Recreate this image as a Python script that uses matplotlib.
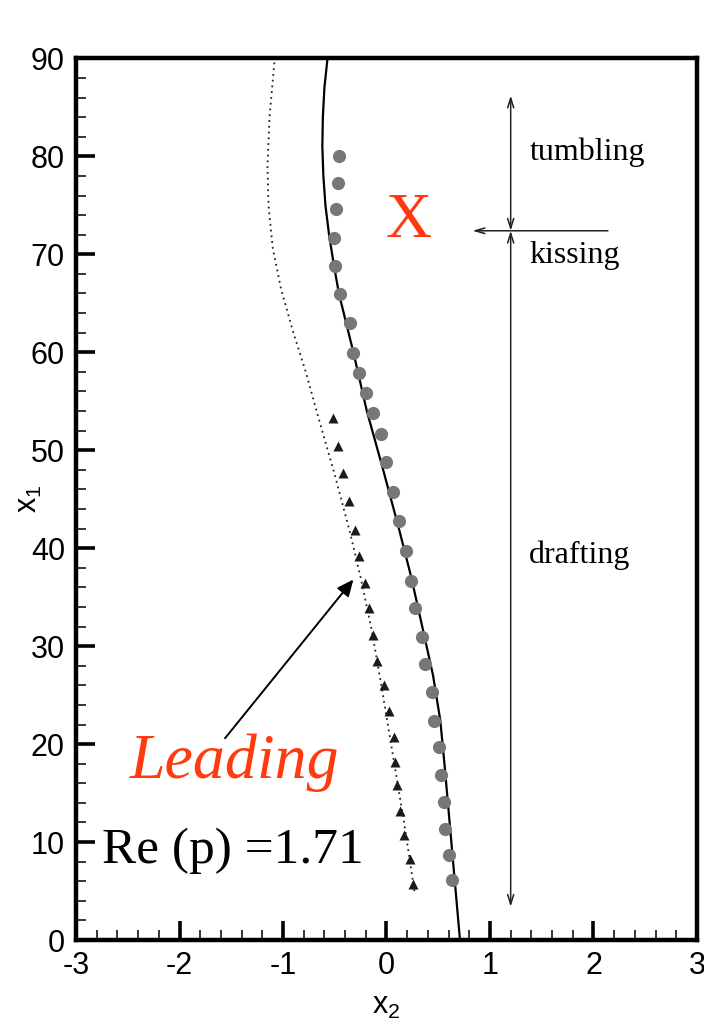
import matplotlib
matplotlib.use("Agg")
import matplotlib.pyplot as plt
from matplotlib.ticker import MultipleLocator

# Particle 1 (trailing) centre positions, numerical data (filled circles)
trail_x2 = [-0.46, -0.47, -0.49, -0.51, -0.50, -0.45, -0.35, -0.32, -0.27, -0.20,
            -0.13, -0.05, 0.00, 0.06, 0.12, 0.19, 0.24, 0.28, 0.34, 0.37,
            0.44, 0.46, 0.51, 0.53, 0.56, 0.57, 0.60, 0.63]
trail_x1 = [80.0, 77.3, 74.6, 71.7, 68.8, 65.9, 63.0, 59.9, 57.9, 55.8,
            53.8, 51.7, 48.8, 45.7, 42.8, 39.7, 36.7, 33.9, 30.9, 28.2,
            25.3, 22.4, 19.7, 16.8, 14.1, 11.3, 8.7, 6.1]

# Particle 2 (leading) centre positions (filled triangles)
lead_x2 = [-0.52, -0.47, -0.42, -0.36, -0.30, -0.27, -0.21, -0.17, -0.13, -0.09,
           -0.02, 0.02, 0.07, 0.08, 0.10, 0.13, 0.17, 0.23, 0.26]
lead_x1 = [53.3, 50.4, 47.7, 44.8, 41.9, 39.2, 36.4, 33.9, 31.1, 28.5,
           26.0, 23.4, 20.7, 18.2, 15.8, 13.2, 10.7, 8.3, 5.7]

# Reference trajectories (solid: trailing particle, dotted: leading particle)
solid_x2 = [0.71, 0.66, 0.61, 0.56, 0.52, 0.45, 0.36, 0.24, 0.12, -0.04,
            -0.19, -0.32, -0.39, -0.46, -0.51, -0.555, -0.59, -0.61, -0.62,
            -0.615, -0.60, -0.57]
solid_x1 = [0.0, 6.0, 12.0, 18.0, 22.4, 27.0, 31.3, 37.0, 42.0, 48.3,
            54.0, 60.0, 63.0, 66.0, 69.0, 72.0, 75.0, 78.0, 81.0,
            84.0, 87.0, 90.0]

dot_x2 = [0.27, 0.17, 0.06, -0.05, -0.14, -0.25, -0.35, -0.50, -0.66, -0.78,
          -0.90, -1.02, -1.10, -1.14, -1.15, -1.13, -1.08]
dot_x1 = [5.0, 12.0, 19.0, 26.0, 31.5, 37.0, 41.5, 47.5, 53.4, 58.0,
          62.0, 66.5, 70.7, 75.0, 79.0, 84.0, 90.0]

# Regime boundaries along x1
regime_x2 = 1.20
tumbling_top, kissing_level, drafting_bottom = 86.2, 72.4, 3.4

RED = "#ff3a10"
SERIF = "Liberation Serif"

plt.rcParams["font.family"] = "Liberation Sans"
plt.rcParams["axes.unicode_minus"] = False

fig = plt.figure(figsize=(7.04, 10.24), dpi=100)
ax = fig.add_axes([0.108, 0.082, 0.882, 0.861])

ax.plot(dot_x2, dot_x1, linestyle=(0, (1, 2.2)), color="#222222", lw=1.3)
ax.plot(solid_x2, solid_x1, color="black", lw=1.6)
ax.plot(trail_x2, trail_x1, "o", color="#777777", ms=9.5, mec="none")
ax.plot(lead_x2, lead_x1, "^", color="#1a1a1a", ms=7, mec="none")

ax.set_xlim(-3, 3)
ax.set_ylim(0, 90)
ax.xaxis.set_major_locator(MultipleLocator(1))
ax.xaxis.set_minor_locator(MultipleLocator(0.2))
ax.yaxis.set_major_locator(MultipleLocator(10))
ax.yaxis.set_minor_locator(MultipleLocator(2))
ax.tick_params(which="major", direction="in", length=14, width=2.6,
               labelsize=22, pad=8)
ax.tick_params(which="minor", direction="in", length=7, width=1.1)
ax.tick_params(axis="x", which="both", top=False)
ax.tick_params(axis="y", which="both", right=False)
for s in ax.spines.values():
    s.set_linewidth(3.2)

ax.set_xlabel(r"$\mathregular{x_2}$", fontsize=22)
ax.set_ylabel(r"$\mathregular{x_1}$", fontsize=22)
ax.xaxis.set_label_coords(0.5, -0.058)
ax.yaxis.set_label_coords(-0.052, 0.5)

# Regime arrows
arrow_kw = dict(arrowstyle="<->,head_length=0.7,head_width=0.22",
                color="#222222", lw=1.1, shrinkA=0, shrinkB=0)
ax.annotate("", xy=(regime_x2, tumbling_top), xytext=(regime_x2, kissing_level),
            arrowprops=arrow_kw)
ax.annotate("", xy=(regime_x2, kissing_level), xytext=(regime_x2, drafting_bottom),
            arrowprops=arrow_kw)
ax.annotate("", xy=(0.83, kissing_level), xytext=(2.14, kissing_level),
            arrowprops=dict(arrowstyle="->,head_length=0.7,head_width=0.2",
                            color="#222222", lw=1.1, shrinkA=0, shrinkB=0))

ax.text(1.38, 80.4, "tumbling", family=SERIF, fontsize=23, ha="left", va="center")
ax.text(1.38, 69.9, "kissing", family=SERIF, fontsize=23, ha="left", va="center")
ax.text(1.38, 39.3, "drafting", family=SERIF, fontsize=23, ha="left", va="center")

ax.text(0.21, 73.3, "X", family=SERIF, fontsize=46, color=RED,
        ha="center", va="center")

ax.annotate("", xy=(-0.32, 36.8), xytext=(-1.56, 20.6),
            arrowprops=dict(arrowstyle="-|>,head_length=1.0,head_width=0.45",
                            color="black", lw=1.4, shrinkA=0, shrinkB=0))
ax.text(-2.48, 16.5, "Leading", family=SERIF, style="italic", fontsize=46,
        color=RED, ha="left", va="baseline")
ax.text(-2.75, 7.9, "Re (p) =1.71", family=SERIF, fontsize=37,
        ha="left", va="baseline")

fig.savefig("out.png", dpi=100)
